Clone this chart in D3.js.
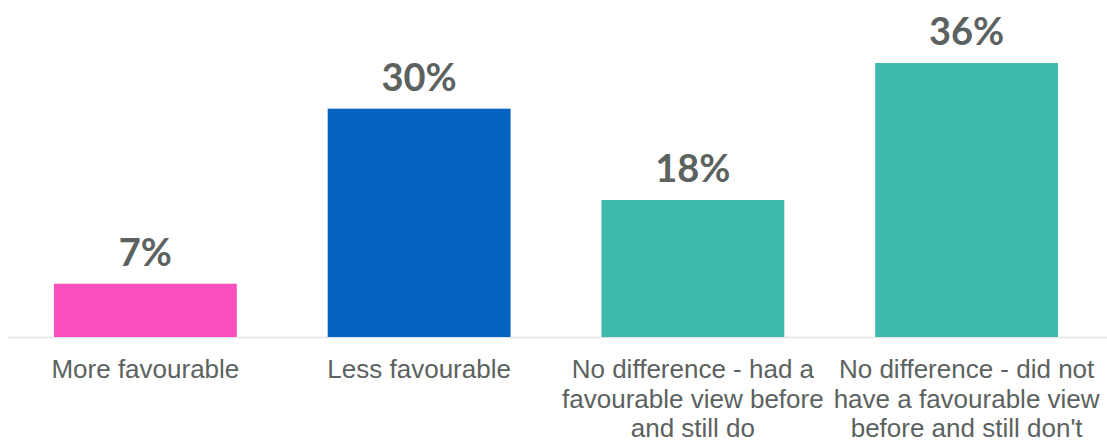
<!DOCTYPE html>
<html>
<head>
<meta charset="utf-8">
<script src="https://cdn.jsdelivr.net/npm/d3@7"></script>
<style>
  body { margin: 0; background: #fff; }
</style>
</head>
<body>
<script>
// Bar chart of change in view

var categories = ["More favourable", "Less favourable", "No difference - had a favourable view before and still do", "No difference - did not have a favourable view before and still don't"];
var tickLines = [
    ["More favourable"],
    ["Less favourable"],
    ["No difference - had a", "favourable view before", "and still do"],
    ["No difference - did not", "have a favourable view", "before and still don't"]
];
var values = [7, 30, 18, 36];
var colors = ["#F94FBF", "#0563C1", "#41BAAE", "#41BAAE"];

var svgwidth = 1107;
var svgheight = 442;

var svg = d3.select("body")
            .append("svg")
            .attr("width", svgwidth)
            .attr("height", svgheight);

var baseline = 337;

var xScale = d3.scaleBand()
        .domain(categories)
        .range([8.5, 1103.5])
        .paddingInner(0.332)
        .paddingOuter(0.166);

var yScale = d3.scaleLinear()
        .domain([0, 36])
        .range([baseline, 63]);

// baseline
svg.append("line")
    .attr("x1", 8)
    .attr("x2", svgwidth)
    .attr("y1", baseline + 0.5)
    .attr("y2", baseline + 0.5)
    .attr("stroke", "#e3e3e3")
    .attr("stroke-width", 1.5);

// bars
svg.selectAll("rect")
    .data(values)
    .enter()
    .append("rect")
    .attr("x", (d, i) => xScale(categories[i]))
    .attr("y", d => yScale(d))
    .attr("width", xScale.bandwidth())
    .attr("height", d => baseline - yScale(d))
    .attr("fill", (d, i) => colors[i]);

// value labels
svg.selectAll(".value")
    .data(values)
    .enter()
    .append("text")
    .attr("class", "value")
    .attr("x", (d, i) => xScale(categories[i]) + xScale.bandwidth() / 2)
    .attr("y", d => yScale(d) - 18)
    .attr("text-anchor", "middle")
    .attr("font-family", "Lato, 'Noto Sans', sans-serif")
    .attr("font-weight", "bold")
    .attr("font-size", "38px")
    .attr("fill", "#5B6260")
    .text(d => d + "%");

// category labels
var labels = svg.selectAll(".cat")
    .data(tickLines)
    .enter()
    .append("text")
    .attr("class", "cat")
    .attr("x", (d, i) => xScale(categories[i]) + xScale.bandwidth() / 2)
    .attr("y", 378)
    .attr("text-anchor", "middle")
    .attr("font-family", "'Liberation Sans', Arial, sans-serif")
    .attr("font-size", "26px")
    .attr("fill", "#5B6260");

labels.each(function(lines, i) {
    var el = d3.select(this);
    var cx = xScale(categories[i]) + xScale.bandwidth() / 2;
    lines.forEach(function(line, j) {
        el.append("tspan")
            .attr("x", cx)
            .attr("dy", j === 0 ? 0 : 29.5)
            .text(line);
    });
});
</script>
</body>
</html>
